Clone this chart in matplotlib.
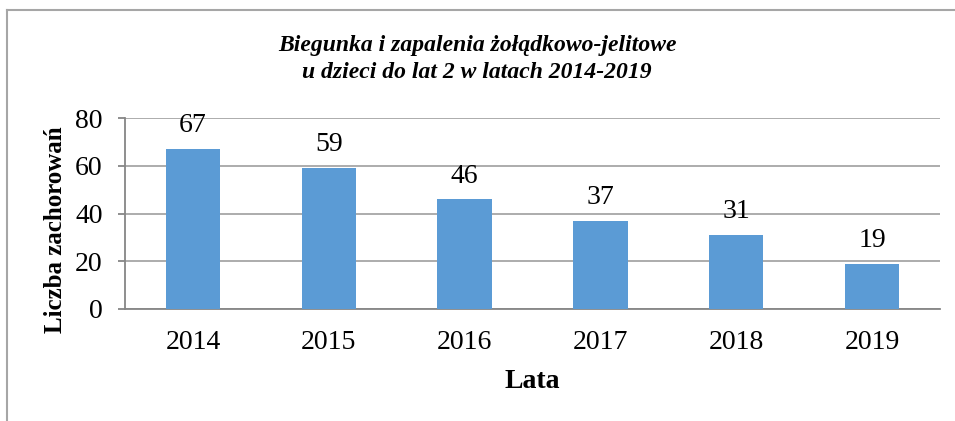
import matplotlib
matplotlib.use('Agg')
from matplotlib import pyplot as plt
from matplotlib.lines import Line2D

years = ['2014', '2015', '2016', '2017', '2018', '2019']
cases = [67, 59, 46, 37, 31, 19]
y_ticks = [0, 20, 40, 60, 80]

title = 'Biegunka i zapalenia żołądkowo-jelitowe\nu dzieci do lat 2 w latach 2014-2019'
y_label = 'Liczba zachorowań'
x_label = 'Lata'

plt.rcParams['font.family'] = ['Liberation Serif', 'DejaVu Serif']
bar_color = '#5B9BD5'
grid_color = '#A6A6A6'

fig = plt.figure(figsize=(9.55, 4.21), dpi=100)
ax = fig.add_axes([125/955, 1-309/421, 815/955, 191/421])

x = range(len(years))
ax.bar(x, cases, width=0.4, color=bar_color, zorder=3)
for i, v in enumerate(cases):
	ax.annotate(str(v), (i, v), xytext=(0, 12), textcoords='offset points',
		ha='center', va='baseline', fontsize=20)

ax.set_xlim(-0.5, len(years) - 0.5)
ax.set_ylim(0, 80)
ax.set_yticks(y_ticks)
ax.set_xticks(list(x))
ax.set_xticklabels(years)
ax.tick_params(axis='y', labelsize=20, length=5, color='#868686', width=1.3, pad=11)
ax.tick_params(axis='x', labelsize=20, length=0, pad=15)
ax.yaxis.grid(True, color=grid_color, linewidth=1.3, zorder=0)

for s in ['top', 'right']:
	ax.spines[s].set_visible(False)
ax.spines['left'].set_color('#868686')
ax.spines['bottom'].set_color('#868686')
ax.spines['left'].set_linewidth(1.3)
ax.spines['bottom'].set_linewidth(1.3)

ax.set_ylabel(y_label, fontsize=18, fontweight='bold')
ax.yaxis.set_label_coords(-0.071, 0.414)
ax.set_xlabel(x_label, fontsize=20, fontweight='bold', labelpad=10)

fig.text(477/955, 1-59/421, title, ha='center', va='center', fontsize=17,
	fontweight='bold', style='italic', linespacing=1.4)

# outer frame (right and bottom edges lie off the picture)
fig.add_artist(Line2D([7/955, 7/955], [0, 1-10/421], color='#A6A6A6', linewidth=1.5, transform=fig.transFigure))
fig.add_artist(Line2D([7/955, 1], [1-10/421, 1-10/421], color='#A6A6A6', linewidth=1.5, transform=fig.transFigure))

fig.savefig('out.png', dpi=100)
